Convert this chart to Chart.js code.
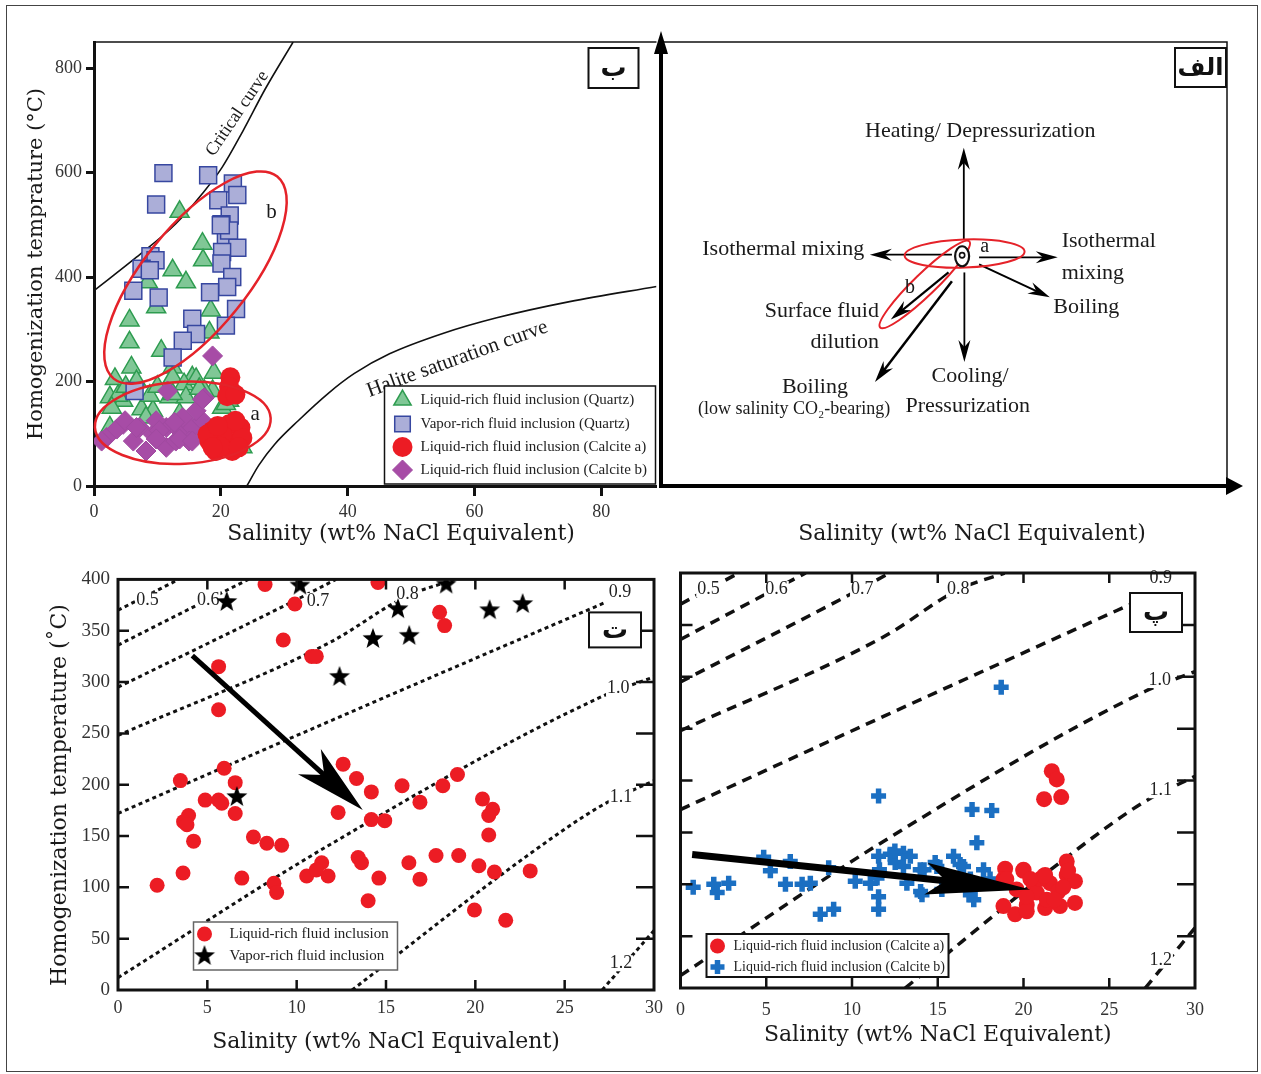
<!DOCTYPE html>
<html>
<head>
<meta charset="utf-8">
<title>Fluid inclusion diagrams</title>
<script src="https://cdn.jsdelivr.net/npm/chart.js@4.4.1/dist/chart.umd.min.js"></script>
<style>
  html, body { margin: 0; background: #fff; }
  #page { position: relative; width: 1261px; height: 1074px; overflow: hidden; }
  #frame { position: absolute; left: 6px; top: 5px; width: 1252px; height: 1067px; border: 1.5px solid #444; box-sizing: border-box; }
  canvas { position: absolute; }
</style>
</head>
<body>
<div id="page">
  <div id="frame"></div>
  <canvas id="chartBe" width="670" height="560" style="left:0px;top:0px"></canvas>
  <canvas id="chartAlef" width="621" height="560" style="left:640px;top:0px"></canvas>
  <canvas id="chartTe" width="670" height="514" style="left:0px;top:560px"></canvas>
  <canvas id="chartPe" width="596" height="514" style="left:665px;top:560px"></canvas>
</div>
<script>
const SERIF = '"Liberation Serif", "Times New Roman", serif';
const TITLE = '"DejaVu Serif", serif';
const ARABIC = '"DejaVu Sans", sans-serif';
Chart.defaults.font.family = SERIF;
Chart.defaults.color = '#222';

// ---- panel ب : salinity (wt%) vs Th (°C), quartz + calcite ----
const liqQuartz = [[13.5,525],[17.1,464],[17.2,432],[12.4,413],[14.5,390],[8.5,390],[9.8,342],[5.6,317],[5.6,275],
  [10.6,259],[18.4,336],[18.2,294],[12.4,227],[5.9,227],[3.3,205],[6.7,201],[12.4,208],[15.5,208],[18.9,217],
  [14.2,195],[16.1,205],[18.7,182],[2.5,170],[7.5,147],[11.9,170],[14.5,170],[17.4,182],[20.2,150],[21.3,163],
  [20.8,157],[2.5,112],[23.4,74],[9.3,144],[4.6,163],[13.5,138],[12.4,176],[3.8,173],[8.8,173],[22.8,106],
  [21.8,74],[8.2,131],[2.8,150],[5,190],[10,190],[16.6,186],[21,86]];
const vapQuartz = [[10.95,599],[18.0,595],[21.9,579],[22.6,557],[19.6,547],[9.8,539],[21.4,518],[20.1,501],
  [20.8,477],[22.6,456],[20.2,448],[20.1,426],[8.9,440],[9.7,432],[7.5,416],[8.8,413],[21.8,400],[21.0,381],
  [18.3,371],[6.2,374],[10.2,361],[22.4,339],[20.8,307],[15.5,320],[16.1,291],[14.0,278],[12.4,246],[6.4,182],
  [21.3,489],[20.0,499]];
const calciteA1 = [[21.5,208],[21.3,190],[21.0,172],[22.3,175],[18.7,106],[21.3,118],[23.1,112],[18.2,86],
  [20.2,86],[22.8,86],[19.2,67],[21.8,67],[20.2,99],[17.9,99],[23.4,92],[20.0,75],[22.3,125],[19.5,115],
  [18.7,74],[22.8,74]];
const calciteB1 = [[18.7,249],[11.6,182],[17.4,169],[2.0,93],[4.6,118],[7.2,112],[9.3,99],[11.4,112],[13.5,106],
  [15.5,112],[17.1,125],[8.2,67],[11.4,74],[15.0,86],[6.2,86],[12.9,86],[3.6,109],[9.8,125],[14.0,131],
  [16.1,144],[17.1,166],[4.9,125],[6.7,112],[10.3,106],[12.7,122],[17.6,100],[1.2,86],[13.5,90],[15.5,86],[9.8,90]];
const criticalCurve = [[0,374],[6.7,438],[12.9,502],[17.1,560],[20.2,610],[23.5,680],[27,760],[31.4,850]];
const haliteCurve = [[24.1,0],[26,40],[28.5,80],[32.2,125],[36.9,177],[41,215],[46.6,253],[55,292],[63.5,322],[75,353],[88.7,382]];
const salTicks1 = [0, 20, 40, 60, 80];
const thTicks1 = [0, 200, 400, 600, 800];

// ---- panel ت : liquid / vapor rich inclusions ----
const liqInc = [[8.23,395],[9.9,376],[9.25,341],[10.84,325],[11.1,325],[5.63,315],[5.63,273],[5.94,216],[6.56,202],
  [3.49,204],[4.88,185],[5.63,185],[5.81,182],[6.56,172],[3.95,170],[3.67,164],[3.86,161],[4.23,145],[7.58,149],
  [8.33,143],[9.16,141],[3.64,114],[2.19,102],[6.93,109],[8.73,104],[8.88,95],[10.56,111],[11.4,124],[11.76,111],
  [11.1,117],[14.55,397],[18.0,368],[18.28,355],[12.6,220],[13.35,206],[14.18,193],[12.32,173],[14.18,166],
  [14.93,165],[15.9,199],[16.9,183],[18.18,199],[19.0,210],[20.4,186],[20.97,176],[20.75,170],[20.75,151],
  [13.44,129],[13.63,124],[14.6,109],[16.28,124],[16.9,108],[17.8,131],[19.07,131],[20.2,121],[21.07,115],
  [23.07,116],[14.0,87],[19.95,78],[21.7,68]];
const vapInc = [[6.09,378],[10.18,394],[6.65,188],[12.4,305],[18.37,395],[15.67,371],[14.27,342],[16.3,345],[20.8,370],[22.65,376]];

// ---- panel پ : calcite a / calcite b ----
const calciteA2 = [[21.65,209],[21.94,201],[21.2,182],[22.2,184],[18.93,115],[22.52,122],[19.99,113],[21.26,109],
  [22.52,109],[23.0,103],[20.58,101],[21.55,101],[18.83,105],[19.6,95],[20.77,92],[22.03,93],[22.32,97],[18.83,79],
  [20.19,80],[19.51,71],[20.19,74],[21.26,77],[22.13,79],[23.0,82],[21.36,85],[20.97,105],[20.19,88],[20.0,114],
  [22.6,113],[21.2,108],[19.0,105],[20.4,105],[21.8,85]];
const calciteB2 = [[0.74,97],[1.94,100],[2.14,92],[2.81,101],[4.85,126],[5.24,113],[6.4,122],[6.12,100],[7.09,100],
  [7.57,101],[8.15,71],[8.93,76],[8.64,116],[10.19,103],[11.07,101],[11.46,106],[11.55,185],[11.55,127],[11.55,88],
  [11.55,76],[12.23,129],[12.52,121],[13.0,130],[13.4,127],[13.2,101],[13.98,114],[14.08,90],[14.95,117],[15.24,95],
  [15.92,127],[16.3,119],[17.0,172],[18.15,171],[17.28,140],[16.5,117],[17.67,114],[17.1,85],[16.7,95],[18.05,105],
  [18.7,290],[12.5,132],[13.0,117],[11.6,114],[14.2,114],[14.85,121],[16.9,105],[14.0,93],[16.9,90]];

// isochores (density g/cm3), shared by panels ت and پ
const isoDensity = ['0.5', '0.6', '0.7', '0.8', '0.9', '1.0', '1.1', '1.2'];
const iso05 = [[0,370],[3.4,400]];
const iso06 = [[0,336],[5,380],[7.3,400]];
const iso07 = [[0,295],[9.85,379],[12.2,400]];
const iso08 = [[0,248],[11.9,339],[16.2,384],[18.9,400]];
const iso09 = [[0,172],[12,263],[27.2,377]];
const iso10 = [[0,12],[11.9,142],[27.1,286],[30,305]];
const iso11 = [[13.1,0],[23,132],[27.1,180],[30,204]];
const iso12 = [[27.1,0],[30,58]];
const isochores = [iso05, iso06, iso07, iso08, iso09, iso10, iso11, iso12];
const salTicks2 = [0, 5, 10, 15, 20, 25, 30];
const thTicks2 = [0, 50, 100, 150, 200, 250, 300, 350, 400];

// ---- helpers ----
const pts = arr => arr.map(([x, y]) => ({x, y}));
const fixedTicks = vals => scale => { scale.ticks = vals.map(v => ({value: v})); };

function txt(ctx, s, x, y, o = {}) {
  ctx.save();
  ctx.font = o.font || `22px ${SERIF}`;
  ctx.fillStyle = o.color || '#1a1a1a';
  ctx.textAlign = o.align || 'center';
  ctx.textBaseline = 'middle';
  ctx.translate(x, y);
  if (o.rot) ctx.rotate(o.rot * Math.PI / 180);
  if (o.bg) {
    const w = ctx.measureText(s).width;
    ctx.fillStyle = o.bg;
    ctx.fillRect(-w / 2 - 1, -8, w + 2, 16);
    ctx.fillStyle = o.color || '#1a1a1a';
  }
  ctx.fillText(s, 0, 0);
  ctx.restore();
}

function ellipse(ctx, x, y, rx, ry, rot, color, lw) {
  ctx.save();
  ctx.beginPath();
  ctx.ellipse(x, y, rx, ry, rot * Math.PI / 180, 0, 2 * Math.PI);
  ctx.strokeStyle = color; ctx.lineWidth = lw;
  ctx.stroke();
  ctx.restore();
}

// barbed arrow: len = head length, half = head half width, notch = distance tip->notch
function arrow(ctx, x1, y1, x2, y2, o) {
  const a = Math.atan2(y2 - y1, x2 - x1), c = Math.cos(a), s = Math.sin(a);
  const nx = x2 - c * o.notch, ny = y2 - s * o.notch;
  const hx = x2 - c * o.len, hy = y2 - s * o.len;
  ctx.save();
  ctx.strokeStyle = ctx.fillStyle = o.color || '#000';
  ctx.lineWidth = o.width;
  ctx.beginPath(); ctx.moveTo(x1, y1); ctx.lineTo(nx + c * 2, ny + s * 2); ctx.stroke();
  ctx.beginPath();
  ctx.moveTo(x2, y2);
  ctx.lineTo(hx - s * o.half, hy + c * o.half);
  ctx.lineTo(nx, ny);
  ctx.lineTo(hx + s * o.half, hy - c * o.half);
  ctx.closePath(); ctx.fill();
  ctx.restore();
}

function boxLabel(ctx, x, y, w, h, s, size) {
  ctx.save();
  ctx.fillStyle = '#fff'; ctx.fillRect(x, y, w, h);
  ctx.strokeStyle = '#111'; ctx.lineWidth = 2; ctx.strokeRect(x, y, w, h);
  ctx.restore();
  txt(ctx, s, x + w / 2, y + h / 2 + 1, {font: `bold ${size || 26}px ${ARABIC}`, color: '#111'});
}

function legendBox(chart, b, ids, o) {
  const ctx = chart.ctx;
  ctx.save();
  ctx.fillStyle = '#fff'; ctx.fillRect(b.x, b.y, b.w, b.h);
  ctx.strokeStyle = o.border || '#111'; ctx.lineWidth = o.lw || 1.5; ctx.strokeRect(b.x, b.y, b.w, b.h);
  ids.forEach((i, k) => {
    const ds = chart.data.datasets[i];
    const yy = b.y + o.rows[k];
    ctx.fillStyle = ds.backgroundColor; ctx.strokeStyle = ds.borderColor; ctx.lineWidth = ds.borderWidth;
    Chart.helpers.drawPoint(ctx, {pointStyle: ds.pointStyle, radius: o.r ? o.r[k] : ds.pointRadius,
      borderWidth: ds.borderWidth, rotation: 0}, b.x + o.mx, yy);
    txt(ctx, ds.label, b.x + o.tx, yy, {font: o.font, align: 'left', color: '#222'});
  });
  ctx.restore();
}

function frameAndTicks(chart, len, lw) {
  const {ctx, chartArea: a, scales: {x, y}} = chart;
  ctx.save();
  ctx.strokeStyle = '#111';
  ctx.lineWidth = 3;
  ctx.strokeRect(a.left, a.top, a.right - a.left, a.bottom - a.top);
  ctx.lineWidth = lw;
  ctx.beginPath();
  x.ticks.forEach(t => {
    const p = x.getPixelForValue(t.value);
    if (p <= a.left + 2 || p >= a.right - 2) return;
    ctx.moveTo(p, a.bottom); ctx.lineTo(p, a.bottom - len.bottom);
    ctx.moveTo(p, a.top); ctx.lineTo(p, a.top + len.top);
  });
  y.ticks.forEach(t => {
    const p = y.getPixelForValue(t.value);
    if (p <= a.top + 2 || p >= a.bottom - 2) return;
    ctx.moveTo(a.left, p); ctx.lineTo(a.left + len.left, p);
    ctx.moveTo(a.right, p); ctx.lineTo(a.right - len.right, p);
  });
  ctx.stroke();
  ctx.restore();
}

const starImg = (() => {
  const r = 11, c = document.createElement('canvas');
  c.width = c.height = 2 * r + 2;
  const g = c.getContext('2d');
  g.fillStyle = '#000';
  g.beginPath();
  for (let i = 0; i < 10; i++) {
    const rr = i % 2 ? r * 0.42 : r, an = -Math.PI / 2 + i * Math.PI / 5;
    g.lineTo(r + 1 + rr * Math.cos(an), r + 1 + rr * Math.sin(an));
  }
  g.closePath(); g.fill();
  return c;
})();

const isoSets = (dash, width) => isochores.map((d, i) => ({
  label: 'ρ ' + isoDensity[i], data: pts(d), showLine: true, pointRadius: 0, borderColor: '#111',
  borderWidth: width, borderDash: dash, tension: 0.4, cubicInterpolationMode: 'monotone', fill: false, order: 5
}));

const tickFont = size => ({family: SERIF, size});

// ---- panel ب ----
const ellipsesBe = [{cx: 16.0, cy: 399, rx: 130, ry: 52, rot: -51}, {cx: 14.0, cy: 121, rx: 88, ry: 41, rot: -3}];

new Chart(document.getElementById('chartBe'), {
  type: 'scatter',
  data: {
    datasets: [
      {label: 'Liquid-rich fluid inclusion (Quartz)', data: pts(liqQuartz), pointStyle: 'triangle', pointRadius: 11,
        backgroundColor: '#80c796', borderColor: '#2e9c50', borderWidth: 1.5, order: 3},
      {label: 'Vapor-rich fluid inclusion (Quartz)', data: pts(vapQuartz), pointStyle: 'rect', pointRadius: 12,
        backgroundColor: '#abaed8', borderColor: '#3747a0', borderWidth: 1.5, order: 2},
      {label: 'Liquid-rich fluid inclusion (Calcite a)', data: pts(calciteA1), pointStyle: 'circle', pointRadius: 10,
        backgroundColor: '#ec1c24', borderColor: '#ec1c24', borderWidth: 0, order: 0},
      {label: 'Liquid-rich fluid inclusion (Calcite b)', data: pts(calciteB1), pointStyle: 'rectRot', pointRadius: 10,
        backgroundColor: '#a74ca6', borderColor: '#a04aa0', borderWidth: 1, order: 1},
      {label: 'Critical curve', data: pts(criticalCurve), showLine: true, pointRadius: 0, borderColor: '#111',
        borderWidth: 1.6, tension: 0.4, cubicInterpolationMode: 'monotone', order: 4},
      {label: 'Halite saturation curve', data: pts(haliteCurve), showLine: true, pointRadius: 0, borderColor: '#111',
        borderWidth: 1.6, tension: 0.4, cubicInterpolationMode: 'monotone', order: 4}
    ]
  },
  options: {
    responsive: false, animation: false, events: [],
    layout: {padding: {left: 0, top: 42, right: 9, bottom: 0}},
    plugins: {legend: {display: false}, tooltip: {enabled: false}},
    scales: {
      x: {type: 'linear', min: 0, max: 88.7, afterBuildTicks: fixedTicks(salTicks1), afterFit: s => { s.height = 74; },
        grid: {drawOnChartArea: false, tickLength: 10, tickWidth: 3, tickColor: '#111'},
        border: {color: '#111', width: 3},
        ticks: {font: tickFont(18), color: '#333', padding: 5, maxRotation: 0}},
      y: {type: 'linear', min: 0, max: 850, afterBuildTicks: fixedTicks(thTicks1), afterFit: s => { s.width = 94; },
        grid: {drawOnChartArea: false, tickLength: 8, tickWidth: 3, tickColor: '#111'},
        border: {color: '#111', width: 3},
        ticks: {font: tickFont(18), color: '#333', padding: 4},
        title: {display: true, text: 'Homogenization temprature (°C)', font: {family: TITLE, size: 21},
          color: '#1a1a1a', padding: {top: 24, bottom: 0}}}
    }
  },
  plugins: [{
    id: 'panelBe',
    afterDatasetsDraw(chart) {
      const {ctx, chartArea: a, scales: {x, y}} = chart;
      ctx.save(); ctx.strokeStyle = '#111'; ctx.lineWidth = 1.5;
      ctx.beginPath(); ctx.moveTo(a.left, a.top); ctx.lineTo(a.right, a.top); ctx.stroke(); ctx.restore();
      txt(ctx, 'Critical curve', x.getPixelForValue(22.6), y.getPixelForValue(713), {font: `18px ${SERIF}`, rot: -56});
      txt(ctx, 'Halite saturation curve', x.getPixelForValue(57.3), y.getPixelForValue(243), {font: `21px ${SERIF}`, rot: -20});
      ellipsesBe.forEach(e => ellipse(ctx, x.getPixelForValue(e.cx), y.getPixelForValue(e.cy), e.rx, e.ry, e.rot, '#e52229', 2.5));
      txt(ctx, 'a', x.getPixelForValue(25.4), y.getPixelForValue(136), {font: `21px ${SERIF}`});
      txt(ctx, 'b', x.getPixelForValue(28), y.getPixelForValue(524), {font: `21px ${SERIF}`});
      boxLabel(ctx, a.right - 68, a.top + 6, 50, 40, 'ب');
      legendBox(chart, {x: a.right - 272, y: a.bottom - 100, w: 271, h: 98}, [0, 1, 2, 3],
        {rows: [14, 38, 61, 84], mx: 18, tx: 36, font: `15px ${SERIF}`, r: [10, 11, 10, 10]});
      txt(ctx, 'Salinity (wt% NaCl Equivalent)', 401, 534, {font: `22px ${TITLE}`});
    }
  }]
});

// ---- panel الف : schematic of fluid processes ----
const processArrows = [
  {from: [53.5, 55.5], to: [53.5, 76.2], w: 1.8},
  {from: [51.4, 52.1], to: [36.9, 52.1], w: 1.8},
  {from: [56.2, 51.5], to: [70.1, 51.5], w: 1.8},
  {from: [56.2, 49.9], to: [68.7, 42.5], w: 2},
  {from: [53.6, 48.1], to: [53.6, 27.9], w: 1.8},
  {from: [50.8, 48.1], to: [40.6, 37.5], w: 2.2},
  {from: [51.4, 46.1], to: [37.8, 23.4], w: 2.5}
];
const processLabels = [
  {t: 'Heating/ Depressurization', x: 56.4, y: 80.0, align: 'center'},
  {t: 'Isothermal mixing', x: 35.9, y: 53.3, align: 'right'},
  {t: 'Isothermal', x: 70.8, y: 55.1, align: 'left'},
  {t: 'mixing', x: 70.8, y: 47.9, align: 'left'},
  {t: 'Boiling', x: 69.3, y: 40.2, align: 'left'},
  {t: 'Surface fluid', x: 38.5, y: 39.3, align: 'right'},
  {t: 'dilution', x: 38.5, y: 32.4, align: 'right'},
  {t: 'Boiling', x: 27.2, y: 22.2, align: 'center'},
  {t: '(low salinity CO₂-bearing)', x: 23.5, y: 17.3, align: 'center', size: 18},
  {t: 'Cooling/', x: 54.6, y: 24.7, align: 'center'},
  {t: 'Pressurization', x: 54.2, y: 18.0, align: 'center'},
  {t: 'a', x: 57.2, y: 53.9, align: 'center', size: 20},
  {t: 'b', x: 44.0, y: 44.7, align: 'center', size: 20}
];
const ellipsesAlef = [{cx: 53.64, cy: 52.36, rx: 60, ry: 14, rot: -2}, {cx: 46.6, cy: 45.4, rx: 62, ry: 11, rot: -44}];

new Chart(document.getElementById('chartAlef'), {
  type: 'scatter',
  data: {datasets: []},
  options: {
    responsive: false, animation: false, events: [],
    layout: {padding: {left: 21, top: 42, right: 34, bottom: 74}},
    plugins: {legend: {display: false}, tooltip: {enabled: false}},
    scales: {x: {type: 'linear', min: 0, max: 100, display: false}, y: {type: 'linear', min: 0, max: 100, display: false}}
  },
  plugins: [{
    id: 'panelAlef',
    afterDraw(chart) {
      const {ctx, chartArea: a, scales: {x, y}} = chart;
      const X = v => x.getPixelForValue(v), Y = v => y.getPixelForValue(v);
      ctx.save();
      ctx.strokeStyle = '#111'; ctx.lineWidth = 1.5;
      ctx.beginPath(); ctx.moveTo(a.left, a.top); ctx.lineTo(a.right, a.top); ctx.lineTo(a.right, a.bottom); ctx.stroke();
      ctx.restore();
      arrow(ctx, a.left, a.bottom + 1, a.left, a.top - 11, {width: 4, len: 23, half: 7, notch: 23});
      arrow(ctx, a.left - 2, a.bottom, a.right + 16, a.bottom, {width: 4, len: 17, half: 9, notch: 17});
      processArrows.forEach(p => arrow(ctx, X(p.from[0]), Y(p.from[1]), X(p.to[0]), Y(p.to[1]),
        {width: p.w, len: 22, half: 6, notch: 15}));
      ellipsesAlef.forEach(e => ellipse(ctx, X(e.cx), Y(e.cy), e.rx, e.ry, e.rot, '#e52229', 2));
      const cx = X(53.2), cy = Y(51.75);
      ctx.save();
      ctx.fillStyle = '#fff';
      ctx.beginPath(); ctx.ellipse(cx, cy, 7, 10, 0, 0, 2 * Math.PI); ctx.fill();
      ctx.restore();
      ellipse(ctx, cx, cy, 7, 10, 0, '#111', 2.2);
      ellipse(ctx, cx, cy - 1, 2.6, 2.6, 0, '#111', 1.6);
      processLabels.forEach(l => txt(ctx, l.t, X(l.x), Y(l.y), {font: `${l.size || 22}px ${SERIF}`, align: l.align}));
      boxLabel(ctx, a.right - 52, a.top + 6, 51, 39, 'الف', 24);
      txt(ctx, 'Salinity (wt% NaCl Equivalent)', 332, 534, {font: `22px ${TITLE}`});
    }
  }]
});

// ---- panel ت ----
const isoTagsTe = [[1.65,380],[5.05,380],[11.2,379],[16.2,385.5],[28.1,387.5],[28.0,294],[28.15,188],[28.15,26]];

new Chart(document.getElementById('chartTe'), {
  type: 'scatter',
  data: {
    datasets: [
      {label: 'Liquid-rich fluid inclusion', data: pts(liqInc), pointStyle: 'circle', pointRadius: 7.5,
        backgroundColor: '#ec1c24', borderColor: '#ec1c24', borderWidth: 0, order: 1},
      {label: 'Vapor-rich fluid inclusion', data: pts(vapInc), pointStyle: starImg, pointRadius: 11,
        backgroundColor: '#000', borderColor: '#000', borderWidth: 0, order: 0},
      ...isoSets([4, 3.5], 3)
    ]
  },
  options: {
    responsive: false, animation: false, events: [],
    layout: {padding: {left: 0, top: 15, right: 15, bottom: 0}},
    plugins: {legend: {display: false}, tooltip: {enabled: false}},
    scales: {
      x: {type: 'linear', min: 0, max: 30, afterBuildTicks: fixedTicks(salTicks2), afterFit: s => { s.height = 84; },
        grid: {display: false, drawTicks: false}, border: {display: false},
        ticks: {font: tickFont(18), color: '#333', padding: 7, maxRotation: 0},
        title: {display: true, text: 'Salinity (wt% NaCl Equivalent)', font: {family: TITLE, size: 22},
          color: '#1a1a1a', padding: {top: 0, bottom: 19}}},
      y: {type: 'linear', min: 0, max: 400, afterBuildTicks: fixedTicks(thTicks2), afterFit: s => { s.width = 118; },
        grid: {display: false, drawTicks: false}, border: {display: false},
        ticks: {font: tickFont(19), color: '#333', padding: 8}}
    }
  },
  plugins: [{
    id: 'panelTe',
    afterDatasetDraw(chart, args) {
      if (args.index !== 2) return;
      const {ctx, scales: {x, y}} = chart;
      isoDensity.forEach((s, i) => txt(ctx, s, x.getPixelForValue(isoTagsTe[i][0]), y.getPixelForValue(isoTagsTe[i][1]),
        {font: `18px ${SERIF}`, bg: '#fff', color: '#222'}));
    },
    afterDatasetsDraw(chart) {
      const {ctx, chartArea: a, scales: {x, y}} = chart;
      frameAndTicks(chart, {left: 11, right: 18, top: 10, bottom: 10}, 2.5);
      arrow(ctx, x.getPixelForValue(4.16), y.getPixelForValue(325.8), x.getPixelForValue(13.7), y.getPixelForValue(175.4),
        {width: 5, len: 72, half: 17, notch: 52});
      boxLabel(ctx, a.right - 65, a.top + 33, 52, 35, 'ت');
      legendBox(chart, {x: a.left + 75.5, y: a.bottom - 68, w: 204, h: 48}, [0, 1],
        {rows: [12, 34], mx: 11, tx: 36, font: `15px ${SERIF}`, border: '#666', lw: 1.5, r: [7.5, 11]});
      txt(ctx, 'Homogenization temperature (˚C)', 60, 235, {font: `22px ${TITLE}`, rot: -90});
    }
  }]
});

// ---- panel پ ----
const isoTagsPe = [[1.63,384.5],[5.6,384.5],[10.6,384.5],[16.2,384],[28.0,394.7],[27.95,296.8],[28.0,190.6],[28.0,26.4]];

new Chart(document.getElementById('chartPe'), {
  type: 'scatter',
  data: {
    datasets: [
      {label: 'Liquid-rich fluid inclusion (Calcite a)', data: pts(calciteA2), pointStyle: 'circle', pointRadius: 8,
        backgroundColor: '#ec1c24', borderColor: '#ec1c24', borderWidth: 0, order: 0},
      {label: 'Liquid-rich fluid inclusion (Calcite b)', data: pts(calciteB2), pointStyle: 'cross', pointRadius: 7.5,
        backgroundColor: '#1b6fc2', borderColor: '#1b6fc2', borderWidth: 5.5, order: 1},
      ...isoSets([10, 7], 3.5)
    ]
  },
  options: {
    responsive: false, animation: false, events: [],
    layout: {padding: {left: 0, top: 12, right: 66, bottom: 0}},
    plugins: {legend: {display: false}, tooltip: {enabled: false}},
    scales: {
      x: {type: 'linear', min: 0, max: 30, afterBuildTicks: fixedTicks(salTicks2), afterFit: s => { s.height = 86; },
        grid: {display: false, drawTicks: false}, border: {display: false},
        ticks: {font: tickFont(18), color: '#333', padding: 11, maxRotation: 0},
        title: {display: true, text: 'Salinity (wt% NaCl Equivalent)', font: {family: TITLE, size: 22},
          color: '#1a1a1a', padding: {top: 0, bottom: 26}}},
      y: {type: 'linear', min: 0, max: 400, afterBuildTicks: fixedTicks(thTicks2), afterFit: s => { s.width = 15; },
        grid: {display: false, drawTicks: false}, border: {display: false},
        ticks: {display: false}}
    }
  },
  plugins: [{
    id: 'panelPe',
    afterDatasetDraw(chart, args) {
      if (args.index !== 2) return;
      const {ctx, scales: {x, y}} = chart;
      isoDensity.forEach((s, i) => txt(ctx, s, x.getPixelForValue(isoTagsPe[i][0]), y.getPixelForValue(isoTagsPe[i][1]),
        {font: `18px ${SERIF}`, bg: '#fff', color: '#222'}));
    },
    afterDatasetsDraw(chart) {
      const {ctx, chartArea: a, scales: {x, y}} = chart;
      frameAndTicks(chart, {left: 12, right: 18, top: 10, bottom: 10}, 2.5);
      arrow(ctx, x.getPixelForValue(0.68), y.getPixelForValue(128.7), x.getPixelForValue(20.4), y.getPixelForValue(95),
        {width: 7, len: 105, half: 16, notch: 85});
      boxLabel(ctx, a.right - 65, a.top + 20, 52, 39, 'پ');
      legendBox(chart, {x: a.left + 26, y: a.bottom - 54, w: 242, h: 43}, [0, 1],
        {rows: [12, 33], mx: 11, tx: 27, font: `14px ${SERIF}`, lw: 2, r: [7.5, 7]});
    }
  }]
});
</script>
</body>
</html>
